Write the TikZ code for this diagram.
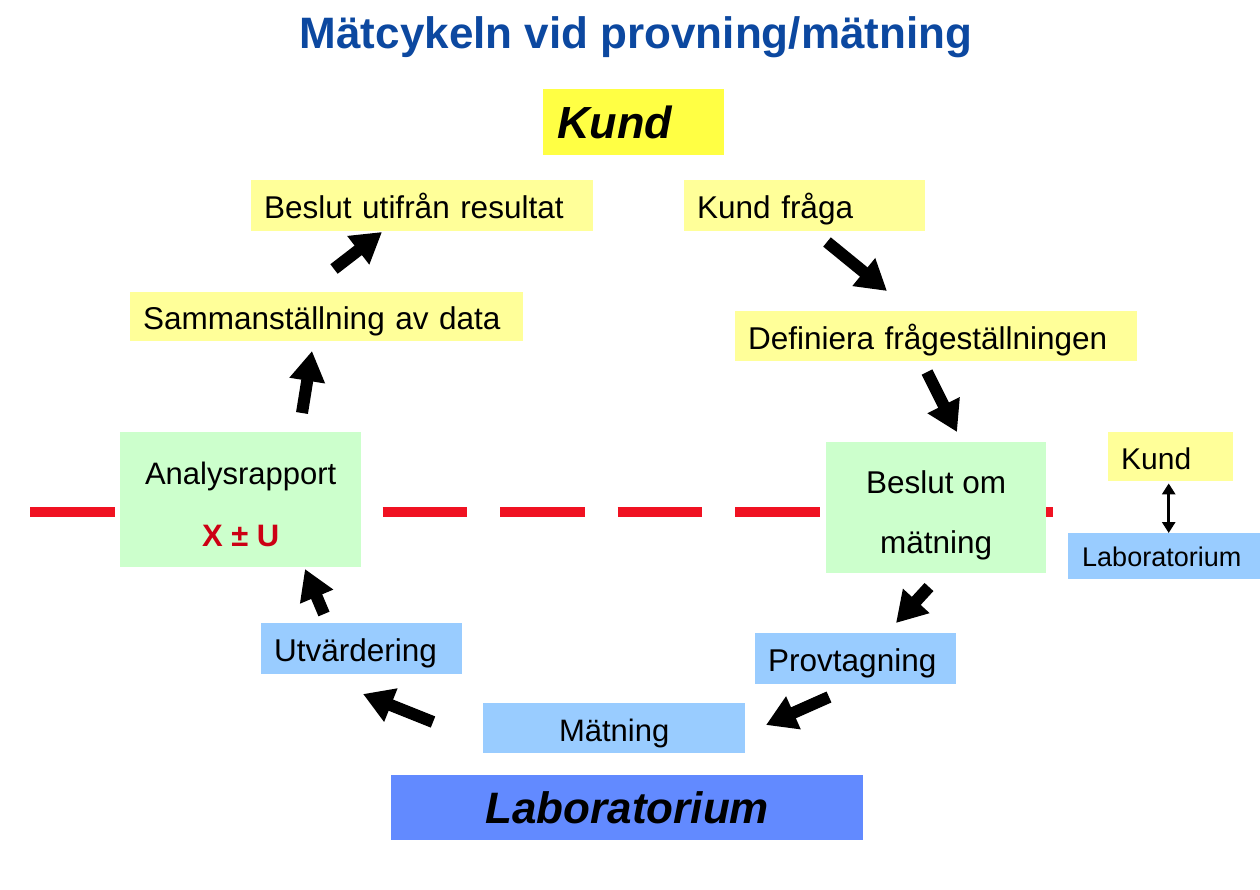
\documentclass[tikz,border=0pt]{standalone}
\usepackage{fontspec}
\setmainfont{Liberation Sans}
\usetikzlibrary{arrows.meta}
\definecolor{titleblue}{RGB}{12,72,160}
\definecolor{kundyel}{RGB}{255,255,68}
\definecolor{lightyel}{RGB}{255,255,153}
\definecolor{lightgreen}{RGB}{204,255,204}
\definecolor{lightblue}{RGB}{153,204,255}
\definecolor{labblue}{RGB}{98,138,255}
\definecolor{dashred}{RGB}{240,18,34}
\definecolor{xured}{RGB}{204,0,20}
\tikzset{
  boxbase/.style={rectangle, inner sep=0pt, inner xsep=13pt, anchor=north west, font=\fontsize{31.5}{38}\selectfont},
  ybox/.style={boxbase, fill=lightyel, align=left, text height=29pt, text depth=3pt},
  bbox/.style={boxbase, fill=lightblue, align=left, text height=29pt, text depth=3pt},
  gbox/.style={rectangle, inner sep=0pt, anchor=north west, fill=lightgreen, align=center},
  blk/.style={draw=black, line width=12pt, -{Triangle[length=30pt,width=34pt]}},
  dbl/.style={draw=black, line width=3pt, {Triangle[length=11pt,width=13pt]}-{Triangle[length=11pt,width=13pt]}},
  redline/.style={draw=dashred, line width=10pt, dash pattern=on 84.5pt off 33pt}
}
\begin{document}
\begin{tikzpicture}[x=1pt,y=-1pt]
\useasboundingbox (0,0) rectangle (1260,890);
% title
\node[font=\fontsize{44}{50}\selectfont\bfseries, text=titleblue] (title) at (636,37) {Mätcykeln vid provning/mätning};
% dashed boundary
\coordinate (dl) at (30,512);
\coordinate (dr) at (1053,512);
\draw[redline] (dl) -- (dr);
% Kund header
\node[boxbase, fill=kundyel, inner xsep=14pt, text width=153pt, minimum height=66pt, font=\fontsize{45}{50}\selectfont\bfseries\itshape, align=left] (kund) at (543,89) {Kund};
% yellow boxes
\node[ybox, text width=316pt, minimum height=51pt] (beslut) at (251,180) {Beslut utifrån resultat};
\node[ybox, text width=367pt, minimum height=49pt] (samm) at (130,292) {Sammanställning av data};
\node[ybox, text width=215pt, minimum height=51pt] (fraga) at (684,180) {Kund fråga};
\node[ybox, text width=376pt, minimum height=50pt] (def) at (735,311) {Definiera frågeställningen};
% green boxes
\node[gbox, minimum width=241pt, minimum height=135pt, font=\fontsize{31}{62}\selectfont] (rapport) at (120,432) {\rule{0pt}{31pt}Analysrapport\\{\color{xured}\bfseries X ± U}};
\node[gbox, minimum width=220pt, minimum height=131pt, font=\fontsize{31.5}{60}\selectfont] (beslutom) at (826,442) {\rule{0pt}{39pt}Beslut om\\mätning};
% blue boxes
\node[bbox, text width=175pt, minimum height=51pt] (utv) at (261,623) {Utvärdering};
\node[bbox, text width=175pt, minimum height=51pt] (prov) at (755,633) {Provtagning};
\node[boxbase, fill=lightblue, minimum width=262pt, minimum height=50pt, inner xsep=0pt, align=center, text height=29pt, text depth=3pt, font=\fontsize{31}{38}\selectfont] (matning) at (483,703) {Mätning};
\node[boxbase, fill=labblue, minimum width=472pt, minimum height=65pt, inner xsep=0pt, align=center, font=\fontsize{44}{50}\selectfont\bfseries\itshape] (lab) at (391,775) {Laboratorium};
% legend
\node[ybox, text width=99pt, minimum height=49pt, font=\fontsize{30}{36}\selectfont] (kund2) at (1108,432) {Kund};
\node[bbox, inner xsep=14pt, text width=164pt, minimum height=46pt, text height=24pt, text depth=3pt, font=\fontsize{27}{32}\selectfont] (lab2) at (1068,533) {Laboratorium};
\draw[dbl] ([xshift=-2pt,yshift=-2pt]kund2.south) -- ([xshift=-2pt]kund2.south |- lab2.north);
% cycle arrows
\coordinate (a1s) at (334,269); \coordinate (a1e) at (382,232);
\coordinate (a2s) at (302,413); \coordinate (a2e) at (312,351);
\coordinate (a3s) at (827,242); \coordinate (a3e) at (887,291);
\coordinate (a4s) at (927,372); \coordinate (a4e) at (957,432);
\coordinate (a5s) at (929,587); \coordinate (a5e) at (896,623);
\coordinate (a6s) at (829,697); \coordinate (a6e) at (766,725);
\coordinate (a7s) at (433,722); \coordinate (a7e) at (363,694);
\coordinate (a8s) at (324,614); \coordinate (a8e) at (305,569);
\draw[blk] (a1s) -- (a1e);
\draw[blk] (a2s) -- (a2e);
\draw[blk] (a3s) -- (a3e);
\draw[blk] (a4s) -- (a4e);
\draw[blk] (a5s) -- (a5e);
\draw[blk] (a6s) -- (a6e);
\draw[blk] (a7s) -- (a7e);
\draw[blk] (a8s) -- (a8e);
\end{tikzpicture}
\end{document}
